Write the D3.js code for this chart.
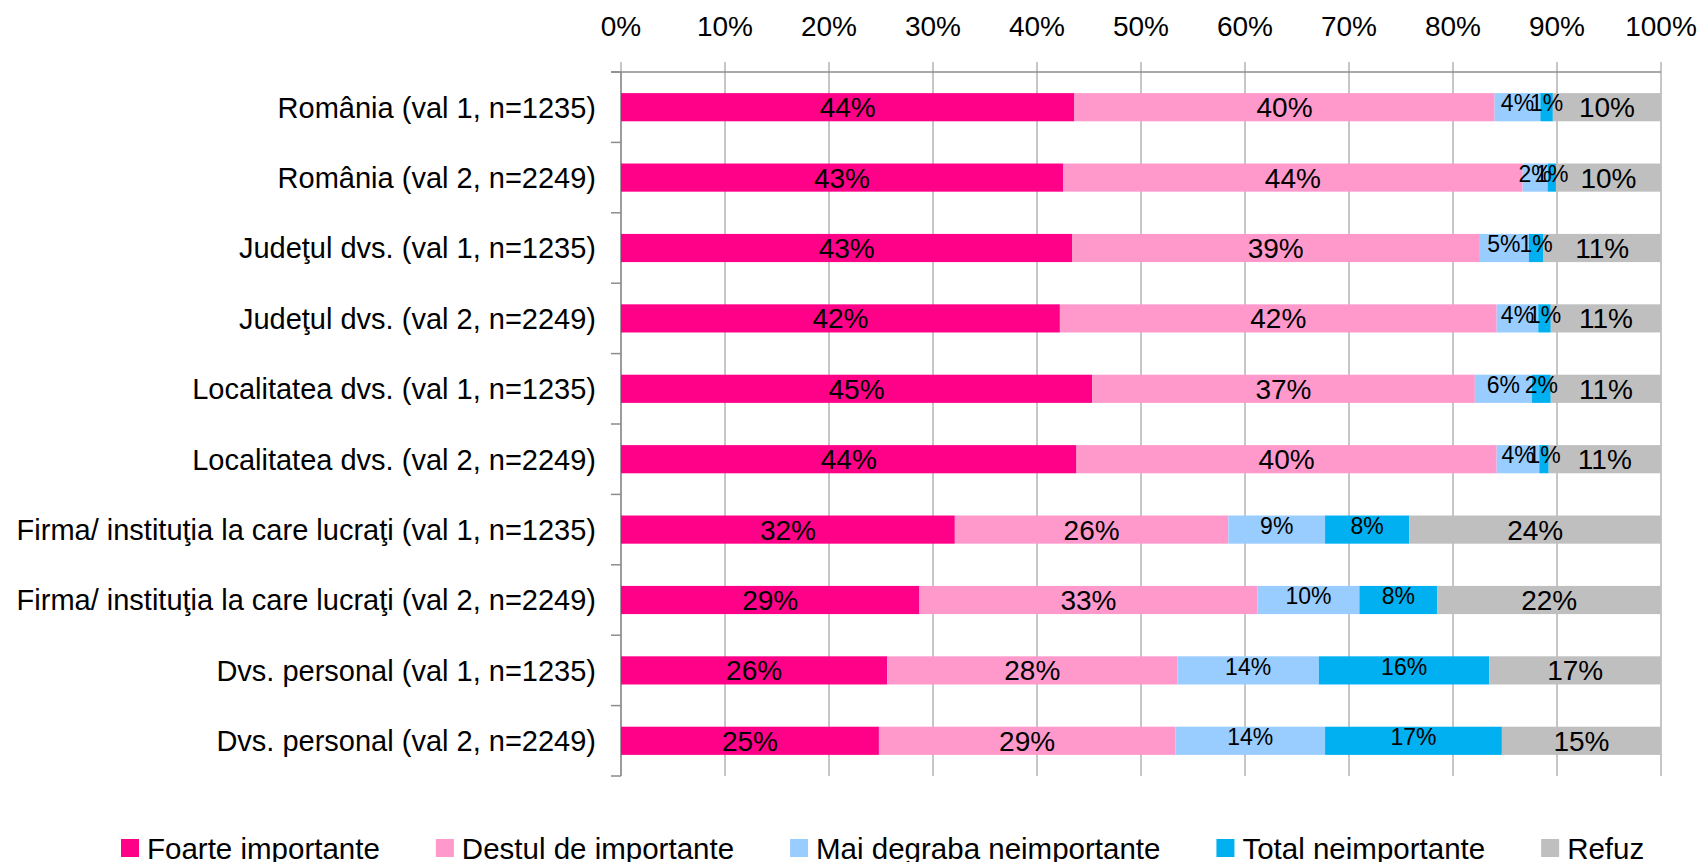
<!DOCTYPE html>
<html>
<head>
<meta charset="utf-8">
<script src="https://cdn.jsdelivr.net/npm/d3@7"></script>
<style>
    body { margin: 0; padding: 0; background: #fff; }
    svg text { font-family: "Liberation Sans", Arial, sans-serif; fill: #000; }
</style>
</head>
<body>
<div id="chart"></div>
<script>
    var categories = [
        "România (val 1, n=1235)",
        "România (val 2, n=2249)",
        "Judeţul dvs. (val 1, n=1235)",
        "Judeţul dvs. (val 2, n=2249)",
        "Localitatea dvs. (val 1, n=1235)",
        "Localitatea dvs. (val 2, n=2249)",
        "Firma/ instituţia la care lucraţi (val 1, n=1235)",
        "Firma/ instituţia la care lucraţi (val 2, n=2249)",
        "Dvs. personal (val 1, n=1235)",
        "Dvs. personal (val 2, n=2249)"
    ];

    var seriesNames = ["Foarte importante", "Destul de importante", "Mai degraba neimportante", "Total neimportante", "Refuz"];
    var seriesColors = ["#ff0088", "#ff99cc", "#99ccff", "#00b0f0", "#bfbfbf"];

    var foarte   = [43.6, 42.5, 43.4, 42.2, 45.3, 43.8, 32.1, 28.7, 25.6, 24.8];
    var destul   = [40.4, 44.2, 39.1, 42.0, 36.8, 40.4, 26.3, 32.5, 27.9, 28.5];
    var maiDegr  = [ 4.4,  2.4,  4.8,  4.0,  5.5,  4.1,  9.3,  9.8, 13.6, 14.4];
    var total    = [ 1.2,  0.8,  1.4,  1.2,  1.8,  0.9,  8.1,  7.5, 16.4, 17.0];
    var refuz    = [10.4, 10.1, 11.3, 10.6, 10.6, 10.8, 24.2, 21.5, 16.5, 15.3];

    var tickValues = [0, 10, 20, 30, 40, 50, 60, 70, 80, 90, 100];

    var values = [foarte, destul, maiDegr, total, refuz];

    var W = 1702, H = 862;
    var plotLeft = 621, plotRight = 1661, plotTop = 72, plotBottom = 776;

    var svg = d3.select("#chart").append("svg")
        .attr("width", W).attr("height", H);

    var x = d3.scaleLinear().domain([0, 100]).range([plotLeft, plotRight]);
    var yb = d3.scaleBand().domain(categories).range([plotTop, plotBottom]);
    var y = d3.scaleBand().domain(categories).range([plotTop, plotBottom]).paddingInner(0.6).paddingOuter(0.3);

    // grid lines + top ticks
    svg.append("g").selectAll("line").data(tickValues).enter().append("line")
        .attr("x1", d => x(d)).attr("x2", d => x(d))
        .attr("y1", plotTop - 10).attr("y2", plotBottom)
        .attr("stroke", "#b3b3b3").attr("stroke-width", 1.5);

    // top axis labels
    svg.append("g").selectAll("text").data(tickValues).enter().append("text")
        .attr("x", d => x(d)).attr("y", 36)
        .attr("text-anchor", "middle")
        .style("font-size", "28px")
        .text(d => d + "%");

    // axis lines
    svg.append("line").attr("x1", plotLeft - 10).attr("x2", plotRight).attr("y1", plotTop).attr("y2", plotTop)
        .attr("stroke", "#8c8c8c").attr("stroke-width", 1.5);
    svg.append("line").attr("x1", plotLeft).attr("x2", plotLeft).attr("y1", plotTop).attr("y2", plotBottom)
        .attr("stroke", "#8c8c8c").attr("stroke-width", 1.5);

    // category axis ticks
    var bounds = categories.map(c => yb(c)).concat([plotBottom]);
    svg.append("g").selectAll("line").data(bounds).enter().append("line")
        .attr("x1", plotLeft - 10).attr("x2", plotLeft)
        .attr("y1", d => d).attr("y2", d => d)
        .attr("stroke", "#8c8c8c").attr("stroke-width", 1.5);

    // category labels
    svg.append("g").selectAll("text").data(categories).enter().append("text")
        .attr("x", 596).attr("y", d => y(d) + y.bandwidth() / 2)
        .attr("dy", "0.36em")
        .attr("text-anchor", "end")
        .style("font-size", "29px")
        .text(d => d);

    // stacked segments
    var rows = categories.map(function(c, i) {
        var acc = 0;
        return values.map(function(s, k) {
            var seg = { cat: c, k: k, v: s[i], x0: acc, x1: acc + s[i] };
            acc += s[i];
            return seg;
        });
    });
    var segs = [].concat.apply([], rows);

    svg.append("g").selectAll("rect").data(segs).enter().append("rect")
        .attr("x", d => x(d.x0))
        .attr("y", d => y(d.cat))
        .attr("width", d => x(d.x1) - x(d.x0))
        .attr("height", y.bandwidth())
        .attr("fill", d => seriesColors[d.k]);

    // small blue segments get the smaller label
    svg.append("g").selectAll("text").data(segs).enter().append("text")
        .attr("x", d => x((d.x0 + d.x1) / 2))
        .attr("y", function(d) {
            var c = y(d.cat) + y.bandwidth() / 2;
            return (d.k === 2 || d.k === 3) ? c - 4 : c;
        })
        .attr("dy", "0.36em")
        .attr("text-anchor", "middle")
        .style("font-size", d => (d.k === 2 || d.k === 3) ? "23px" : "28px")
        .text(d => Math.round(d.v) + "%");

    // legend
    var legend = svg.append("g");
    var lx = 121;
    seriesNames.forEach(function(name, k) {
        legend.append("rect")
            .attr("x", lx).attr("y", 839)
            .attr("width", 18).attr("height", 18)
            .attr("fill", seriesColors[k]);
        var t = legend.append("text")
            .attr("x", lx + 26).attr("y", 848)
            .attr("dy", "0.36em")
            .style("font-size", "29.5px")
            .text(name);
        lx += 26 + t.node().getComputedTextLength() + 56;
    });
</script>
</body>
</html>
